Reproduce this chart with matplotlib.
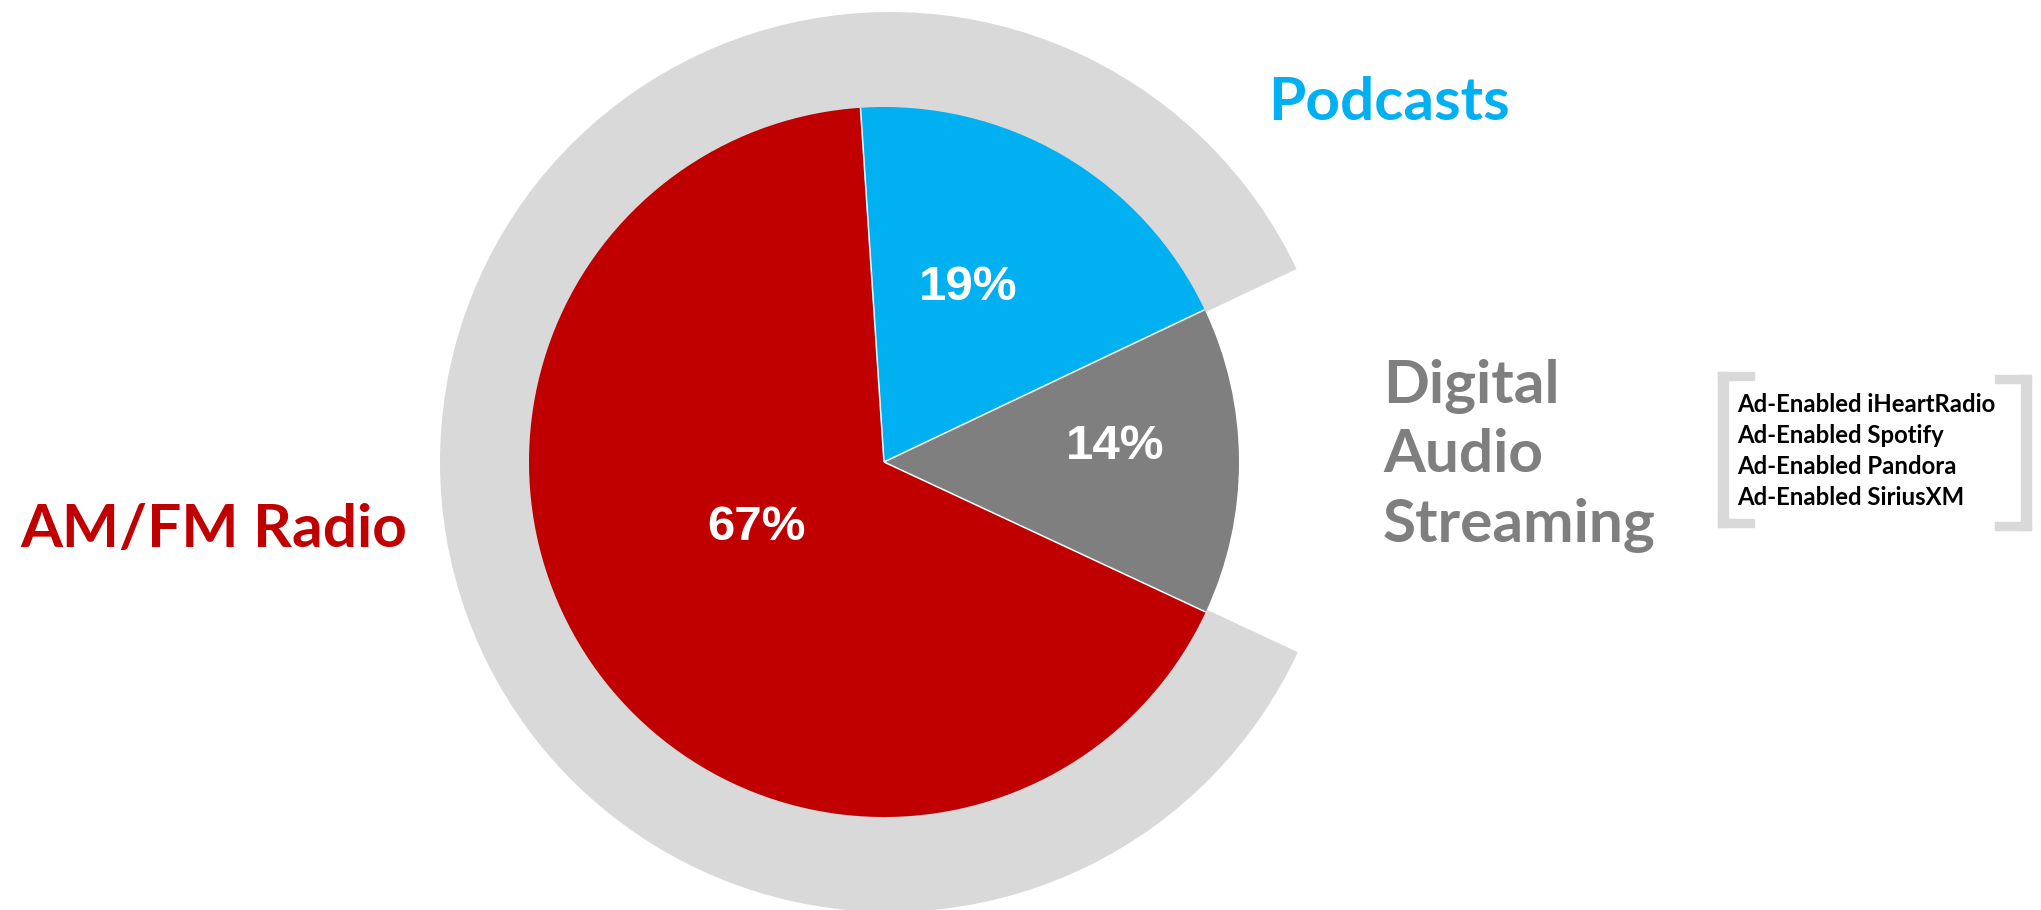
import numpy as np
import matplotlib
matplotlib.use("Agg")
import matplotlib.pyplot as plt
from matplotlib.patches import Wedge, Rectangle

# audio ad share
segments = ["Podcasts", "Digital Audio Streaming", "AM/FM Radio"]
shares = [19, 14, 67]
colors = ["#00B0F0", "#7F7F7F", "#C00000"]
streaming_services = ["Ad-Enabled iHeartRadio", "Ad-Enabled Spotify",
                      "Ad-Enabled Pandora", "Ad-Enabled SiriusXM"]

W, H = 2041, 910
fig = plt.figure(figsize=(W / 100, H / 100), dpi=100)
ax = fig.add_axes([0, 0, 1, 1])

cx, cy, r = 884, 448, 355
start = 93.8

wedges, _ = ax.pie(shares, colors=colors, startangle=start, counterclock=False,
                   center=(cx, cy), radius=r, frame=True)
for w in wedges:
    w.set_zorder(2)

# slice boundaries
bounds = start - 360 * np.cumsum([0] + shares) / 100.0
for a in bounds[:-1]:
    t = np.radians(a)
    ax.plot([cx, cx + r * np.cos(t)], [cy, cy + r * np.sin(t)],
            color="white", lw=1.1, zorder=3, solid_capstyle="butt")

# grey backdrop behind everything except the streaming slice
ax.add_patch(Wedge((cx + 6, cy), 450, bounds[1], bounds[2] + 360,
                   facecolor="#D9D9D9", edgecolor="none", zorder=1))

# percentage labels
pct_pos = [(968, 610), (1115, 451), (756, 370)]
for v, (x, y) in zip(shares, pct_pos):
    ax.text(x, y, f"{v}%", color="white", fontsize=35.5, fontweight="bold",
            family=["Liberation Sans", "DejaVu Sans"], ha="center",
            va="baseline", zorder=4)

label_font = dict(fontsize=43.5, fontweight="bold", family=["Lato", "DejaVu Sans"],
                  va="baseline", ha="left")
ax.text(1268, 790, segments[0], color=colors[0], **label_font)
for i, word in enumerate(segments[1].split()):
    ax.text(1383, 507 - 69.5 * i, word, color=colors[1], **label_font)
ax.text(20, 363, segments[2], color=colors[2], **label_font)

# streaming services list in brackets
for i, s in enumerate(streaming_services):
    ax.text(1737, 498 - 31 * i, s, color="black", fontsize=17.2,
            fontweight="bold", family=["Lato", "DejaVu Sans"],
            va="baseline", ha="left")

br = "#D9D9D9"
ax.add_patch(Rectangle((1718, 383), 10, 155, color=br))
ax.add_patch(Rectangle((1718, 530), 36, 8, color=br))
ax.add_patch(Rectangle((1718, 383), 36, 8, color=br))
ax.add_patch(Rectangle((2021, 380), 10, 155, color=br))
ax.add_patch(Rectangle((1995, 527), 36, 8, color=br))
ax.add_patch(Rectangle((1995, 380), 36, 8, color=br))

ax.set_xlim(0, W)
ax.set_ylim(0, H)
ax.set_aspect("equal")
ax.axis("off")

fig.savefig("out.png", dpi=100, facecolor="white")
